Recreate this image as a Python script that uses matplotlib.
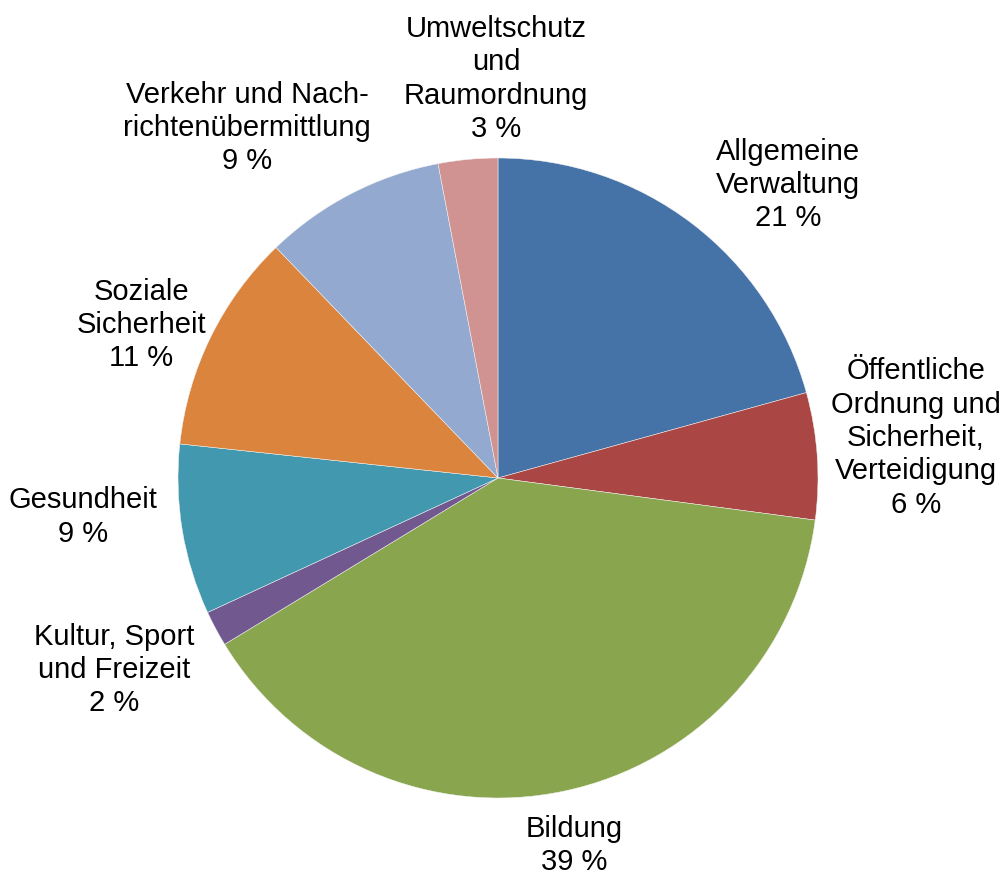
import matplotlib.pyplot as plt

plt.rcParams['font.family'] = ['Liberation Sans', 'DejaVu Sans']

# Anteile in Prozent (im Uhrzeigersinn ab 12 Uhr)
bereiche = ["Allgemeine\nVerwaltung",
            "Öffentliche\nOrdnung und\nSicherheit,\nVerteidigung",
            "Bildung",
            "Kultur, Sport\nund Freizeit",
            "Gesundheit",
            "Soziale\nSicherheit",
            "Verkehr und Nach-\nrichtenübermittlung",
            "Umweltschutz\nund\nRaumordnung"]
anteile = [20.7, 6.4, 39.2, 1.8, 8.6, 11.1, 9.2, 3.0]
farben = ["#4572A7", "#AA4643", "#89A54E", "#71588F",
          "#4198AF", "#DB843D", "#93A9CF", "#D19392"]

# Lage der Beschriftungen (in Radien)
label_pos = [(0.906, 0.916), (1.306, 0.125), (0.2375, -1.148), (-1.2, -0.6),
             (-1.297, -0.122), (-1.114, 0.478), (-0.784, 1.094), (-0.006, 1.247)]

fig = plt.figure(figsize=(10.04, 8.77), dpi=100)
ax = fig.add_axes([0, 0, 1, 1])

ax.pie(anteile, colors=farben, startangle=90, counterclock=False,
       radius=1, wedgeprops=dict(edgecolor='#f4f4f4', linewidth=0.35))

for name, wert, (x, y) in zip(bereiche, anteile, label_pos):
    ax.text(x, y, f"{name}\n{round(wert + 1e-9):d} %", ha='center', va='center',
            fontsize=21, linespacing=1.24, color='black')

# 320 px pro Radius, Mittelpunkt bei (498, 478) px
ax.set_xlim(-498 / 320, (1004 - 498) / 320)
ax.set_ylim(-(877 - 478) / 320, 478 / 320)
ax.axis('off')

fig.savefig("out.png", dpi=100)
